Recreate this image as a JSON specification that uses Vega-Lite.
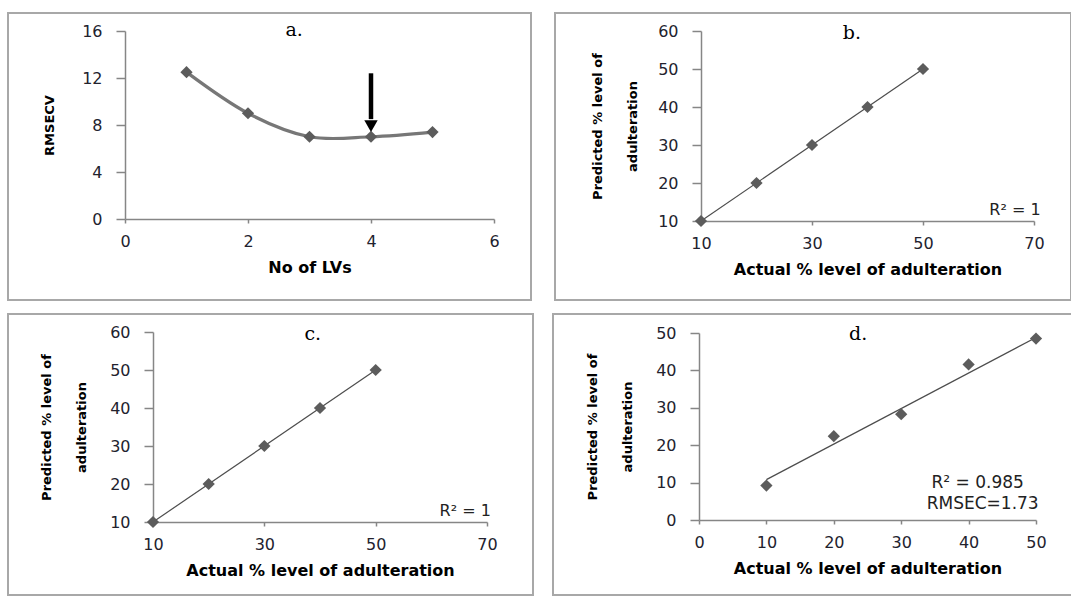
{
  "$schema": "https://vega.github.io/schema/vega-lite/v6.json",
  "padding": {"left": 7, "top": 12, "right": 0, "bottom": 0},
  "background": "white",
  "spacing": 12,
  "datasets": {
    "rmsecv": [
      {"lv": 1, "rmsecv": 12.5},
      {"lv": 2, "rmsecv": 9.0},
      {"lv": 3, "rmsecv": 7.0},
      {"lv": 4, "rmsecv": 7.0},
      {"lv": 5, "rmsecv": 7.4}
    ],
    "pred_b": [
      {"actual": 10, "predicted": 10},
      {"actual": 20, "predicted": 20},
      {"actual": 30, "predicted": 30},
      {"actual": 40, "predicted": 40},
      {"actual": 50, "predicted": 50}
    ],
    "fit_b": [
      {"actual": 10, "predicted": 10},
      {"actual": 50, "predicted": 50}
    ],
    "pred_c": [
      {"actual": 10, "predicted": 10},
      {"actual": 20, "predicted": 20},
      {"actual": 30, "predicted": 30},
      {"actual": 40, "predicted": 40},
      {"actual": 50, "predicted": 50}
    ],
    "fit_c": [
      {"actual": 10, "predicted": 10},
      {"actual": 50, "predicted": 50}
    ],
    "pred_d": [
      {"actual": 10, "predicted": 9.2},
      {"actual": 20, "predicted": 22.4},
      {"actual": 30, "predicted": 28.3},
      {"actual": 40, "predicted": 41.6},
      {"actual": 50, "predicted": 48.5}
    ],
    "fit_d": [
      {"actual": 10, "predicted": 10.8},
      {"actual": 50, "predicted": 48.8}
    ],
    "one": [{}]
  },
  "config": {
    "view": {"stroke": "#a8a8a8", "strokeWidth": 2},
    "axis": {
      "grid": false,
      "labelFlush": false,
      "format": "d",
      "domainColor": "#868686",
      "domainWidth": 1.5,
      "tickColor": "#868686",
      "tickWidth": 1.5,
      "labelFont": "DejaVu Sans",
      "labelFontSize": 16,
      "labelColor": "#22222e",
      "titleFont": "DejaVu Sans",
      "titleFontWeight": "bold",
      "titleColor": "#000000"
    },
    "axisX": {"tickSize": 4, "labelPadding": 10, "titleFontSize": 16, "titlePadding": 10},
    "axisY": {"tickSize": 9, "labelPadding": 14, "titleFontSize": 13, "titlePadding": 21, "titleLineHeight": 35}
  },
  "vconcat": [
    {
      "spacing": 22,
      "hconcat": [
        {
          "width": 523,
          "height": 287,
          "layer": [
            {
              "data": {"name": "rmsecv"},
              "mark": {"type": "line", "interpolate": "cardinal", "color": "#777777", "strokeWidth": 3.2},
              "encoding": {
                "x": {"field": "lv", "type": "quantitative", "scale": {"domain": [0, 6], "range": [117, 486], "nice": false, "zero": false},
                      "axis": {"values": [0, 2, 4, 6], "title": "No of LVs", "offset": -81}},
                "y": {"field": "rmsecv", "type": "quantitative", "scale": {"domain": [0, 16], "range": [206, 18], "nice": false, "zero": false},
                      "axis": {"values": [0, 4, 8, 12, 16], "title": "RMSECV", "offset": -117, "titlePadding": 25}}
              }
            },
            {
              "data": {"name": "rmsecv"},
              "mark": {"type": "point", "shape": "diamond", "filled": true, "color": "#5c5c5c", "size": 150, "opacity": 1},
              "encoding": {
                "x": {"field": "lv", "type": "quantitative"},
                "y": {"field": "rmsecv", "type": "quantitative"}
              }
            },
            {
              "data": {"name": "one"},
              "mark": {"type": "rule", "color": "#000000", "strokeWidth": 4.5},
              "encoding": {"x": {"datum": 4}, "y": {"datum": 12.4}, "y2": {"datum": 8.5}}
            },
            {
              "data": {"name": "one"},
              "mark": {"type": "point", "shape": "triangle-down", "filled": true, "color": "#000000", "size": 180, "opacity": 1},
              "encoding": {"x": {"datum": 4}, "y": {"datum": 7.9}}
            },
            {
              "data": {"name": "one"},
              "mark": {"type": "text", "text": "a.", "font": "DejaVu Serif", "fontSize": 19, "color": "#000000", "baseline": "middle", "align": "center"},
              "encoding": {"x": {"datum": 2.75}, "y": {"datum": 16.1}}
            }
          ]
        },
        {
          "width": 516,
          "height": 287,
          "layer": [
            {
              "data": {"name": "fit_b"},
              "mark": {"type": "line", "color": "#4d4d4d", "strokeWidth": 1.2},
              "encoding": {
                "x": {"field": "actual", "type": "quantitative", "scale": {"domain": [10, 70], "range": [146, 479], "nice": false, "zero": false},
                      "axis": {"values": [10, 30, 50, 70], "title": "Actual % level of adulteration", "offset": -79}},
                "y": {"field": "predicted", "type": "quantitative", "scale": {"domain": [10, 60], "range": [208, 18], "nice": false, "zero": false},
                      "axis": {"values": [10, 20, 30, 40, 50, 60], "title": ["Predicted % level of", "adulteration"], "offset": -146, "titlePadding": 18}}
              }
            },
            {
              "data": {"name": "pred_b"},
              "mark": {"type": "point", "shape": "diamond", "filled": true, "color": "#5c5c5c", "size": 150, "opacity": 1},
              "encoding": {
                "x": {"field": "actual", "type": "quantitative"},
                "y": {"field": "predicted", "type": "quantitative"}
              }
            },
            {
              "data": {"name": "one"},
              "mark": {"type": "text", "text": "b.", "font": "DejaVu Serif", "fontSize": 19, "color": "#000000", "baseline": "middle", "align": "center"},
              "encoding": {"x": {"datum": 37.2}, "y": {"datum": 59.5}}
            },
            {
              "data": {"name": "one"},
              "mark": {"type": "text", "text": "R² = 1", "font": "DejaVu Sans", "fontSize": 16, "color": "#222222", "baseline": "middle", "align": "right"},
              "encoding": {"x": {"datum": 71.2}, "y": {"datum": 12.9}}
            }
          ]
        }
      ]
    },
    {
      "spacing": 18,
      "hconcat": [
        {
          "width": 525,
          "height": 281,
          "layer": [
            {
              "data": {"name": "fit_c"},
              "mark": {"type": "line", "color": "#4d4d4d", "strokeWidth": 1.2},
              "encoding": {
                "x": {"field": "actual", "type": "quantitative", "scale": {"domain": [10, 70], "range": [145, 479], "nice": false, "zero": false},
                      "axis": {"values": [10, 30, 50, 70], "title": "Actual % level of adulteration", "offset": -73}},
                "y": {"field": "predicted", "type": "quantitative", "scale": {"domain": [10, 60], "range": [208, 18], "nice": false, "zero": false},
                      "axis": {"values": [10, 20, 30, 40, 50, 60], "title": ["Predicted % level of", "adulteration"], "offset": -145}}
              }
            },
            {
              "data": {"name": "pred_c"},
              "mark": {"type": "point", "shape": "diamond", "filled": true, "color": "#5c5c5c", "size": 150, "opacity": 1},
              "encoding": {
                "x": {"field": "actual", "type": "quantitative"},
                "y": {"field": "predicted", "type": "quantitative"}
              }
            },
            {
              "data": {"name": "one"},
              "mark": {"type": "text", "text": "c.", "font": "DejaVu Serif", "fontSize": 19, "color": "#000000", "baseline": "middle", "align": "center"},
              "encoding": {"x": {"datum": 38.7}, "y": {"datum": 59.5}}
            },
            {
              "data": {"name": "one"},
              "mark": {"type": "text", "text": "R² = 1", "font": "DejaVu Sans", "fontSize": 16, "color": "#222222", "baseline": "middle", "align": "right"},
              "encoding": {"x": {"datum": 70.7}, "y": {"datum": 12.9}}
            }
          ]
        },
        {
          "width": 520,
          "height": 281,
          "layer": [
            {
              "data": {"name": "fit_d"},
              "mark": {"type": "line", "color": "#4d4d4d", "strokeWidth": 1.2},
              "encoding": {
                "x": {"field": "actual", "type": "quantitative", "scale": {"domain": [0, 50], "range": [146, 483], "nice": false, "zero": false},
                      "axis": {"values": [0, 10, 20, 30, 40, 50], "title": "Actual % level of adulteration", "offset": -75}},
                "y": {"field": "predicted", "type": "quantitative", "scale": {"domain": [0, 50], "range": [206, 19], "nice": false, "zero": false},
                      "axis": {"values": [0, 10, 20, 30, 40, 50], "title": ["Predicted % level of", "adulteration"], "offset": -146}}
              }
            },
            {
              "data": {"name": "pred_d"},
              "mark": {"type": "point", "shape": "diamond", "filled": true, "color": "#5c5c5c", "size": 150, "opacity": 1},
              "encoding": {
                "x": {"field": "actual", "type": "quantitative"},
                "y": {"field": "predicted", "type": "quantitative"}
              }
            },
            {
              "data": {"name": "one"},
              "mark": {"type": "text", "text": "d.", "font": "DejaVu Serif", "fontSize": 19, "color": "#000000", "baseline": "middle", "align": "center"},
              "encoding": {"x": {"datum": 23.6}, "y": {"datum": 49.6}}
            },
            {
              "data": {"name": "one"},
              "mark": {"type": "text", "text": "R² = 0.985", "font": "DejaVu Sans", "fontSize": 17, "color": "#222222", "baseline": "middle", "align": "right"},
              "encoding": {"x": {"datum": 48.2}, "y": {"datum": 9.9}}
            },
            {
              "data": {"name": "one"},
              "mark": {"type": "text", "text": "RMSEC=1.73", "font": "DejaVu Sans", "fontSize": 17, "color": "#222222", "baseline": "middle", "align": "right"},
              "encoding": {"x": {"datum": 50.4}, "y": {"datum": 4.3}}
            }
          ]
        }
      ]
    }
  ]
}
